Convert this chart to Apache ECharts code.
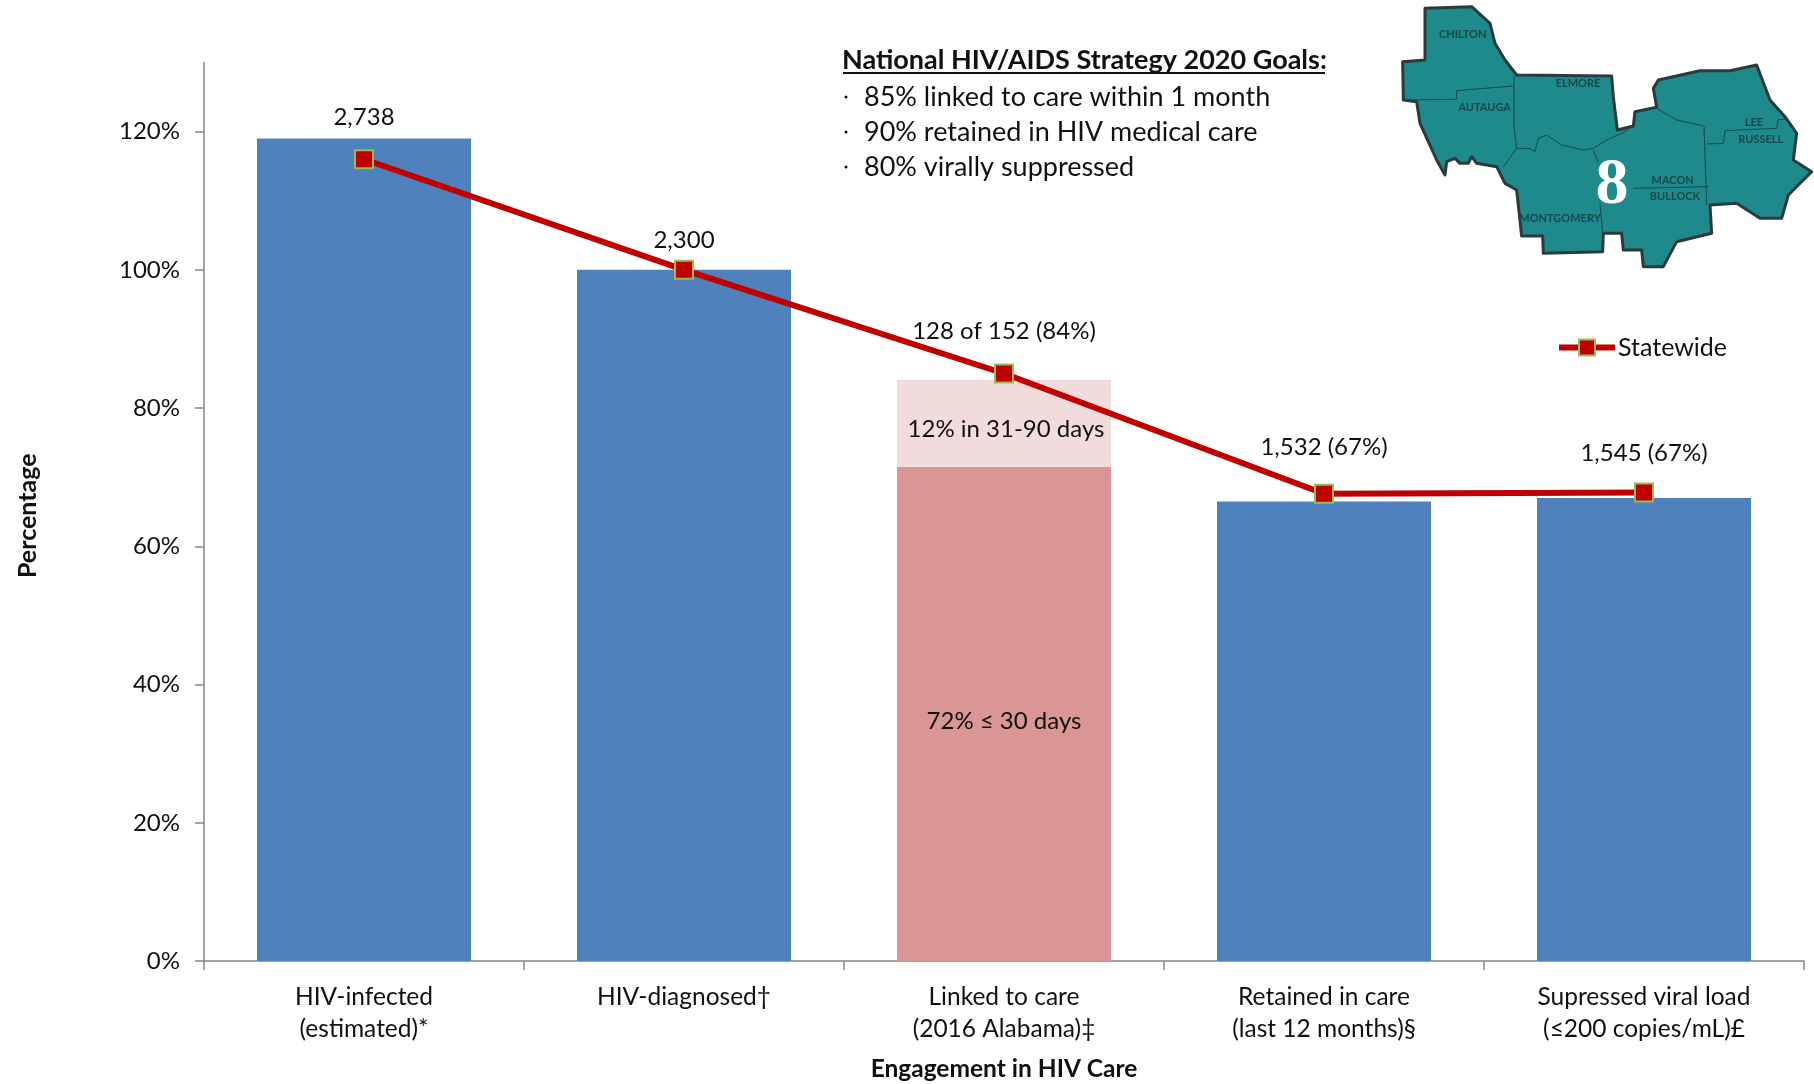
<!DOCTYPE html>
<html>
<head>
<meta charset="utf-8">
<title>HIV care continuum</title>
<script src="https://cdn.jsdelivr.net/npm/echarts@6/dist/echarts.min.js"></script>
<style>
  html, body { margin: 0; padding: 0; background: #fff; }
  #chart { width: 1814px; height: 1084px; }
</style>
</head>
<body>
<div id="chart"></div>
<script>
const categories = [
  'HIV-infected\n(estimated)*',
  'HIV-diagnosed\u2020',
  'Linked to care\n(2016 Alabama)\u2021',
  'Retained in care\n(last 12 months)\u00a7',
  'Supressed viral load\n(\u2264200 copies/mL)\u00a3'
]
const regionValues = [119, 100, 71.5, 66.5, 67]
const linked31to90Values = [null, null, 12.6, null, null]
const statewideValues = [116, 100, 85, 67.6, 67.8]
const countLabels = ['2,738', '2,300', '128 of 152 (84%)', '1,532 (67%)', '1,545 (67%)']
const yTicks = [0, 20, 40, 60, 80, 100, 120]
const goalsTitle = 'National HIV/AIDS Strategy 2020 Goals:'
const goals = ['85% linked to care within 1 month', '90% retained in HIV medical care', '80% virally suppressed']

const FONT = 'Lato'
const TEXT = '#111'
const AXIS = '#868686'

// how far each count label sits above its marker
const labelRise = [30, 18, 30, 35, 27]

// map outline, traced in a 3x space and scaled down at draw time
const mapOutline = [[135,25],[275,20],[330,70],[345,130],[375,180],[410,225],[695,228],[700,290],[712,390],[760,378],[765,335],[830,322],[820,265],[835,240],[960,212],[1050,212],[1130,195],[1170,300],[1215,350],[1250,400],[1240,480],[1295,515],[1225,585],[1205,655],[1140,655],[1070,610],[990,615],[995,700],[890,725],[850,800],[790,800],[785,750],[730,750],[725,700],[670,700],[668,755],[490,760],[488,708],[425,708],[410,570],[375,550],[350,500],[290,490],[275,470],[265,490],[240,490],[225,475],[200,485],[195,525],[170,480],[120,370],[110,305],[70,300],[68,185],[135,180]]
const mapBorders = [
  [[70,300],[230,298],[230,272],[400,258]],
  [[402,228],[402,380],[410,445],[370,500]],
  [[410,445],[450,445],[465,455],[475,415],[500,405],[545,435],[610,450],[640,445],[680,420],[725,400],[760,378]],
  [[640,450],[655,490]],
  [[660,610],[668,700]],
  [[760,565],[985,560]],
  [[830,325],[890,360],[972,378],[980,615]],
  [[980,432],[1030,430],[1035,392],[1190,385],[1195,358],[1215,358]]
]
const mapLabels = [
  ['CHILTON', 248, 104], ['ELMORE', 594, 250], ['AUTAUGA', 314, 322], ['LEE', 1122, 367],
  ['RUSSELL', 1142, 418], ['MACON', 878, 542], ['BULLOCK', 885, 588], ['MONTGOMERY', 540, 654]
]

const toMap = (p) => [1380 + p[0] / 3, p[1] / 3]

function buildGraphic() {
  const items = [
    {
      type: 'text', left: 842, top: 47,
      style: { text: goalsTitle, font: 'bold 27px ' + FONT, fill: TEXT }
    },
    {
      type: 'line', shape: { x1: 843, y1: 73, x2: 1325, y2: 73 },
      style: { stroke: TEXT, lineWidth: 2 }
    }
  ]
  goals.forEach((g, i) => {
    const y = [97, 132, 167][i]
    items.push({ type: 'circle', shape: { cx: 846, cy: y, r: 1.5 }, style: { fill: TEXT } })
    items.push({
      type: 'text', x: 864, y: y,
      style: { text: g, font: '27px ' + FONT, fill: TEXT, verticalAlign: 'middle' }
    })
  })

  items.push({
    type: 'polygon', shape: { points: mapOutline.map(toMap) },
    style: { fill: '#1F8A8C', stroke: '#2B3A3A', lineWidth: 3, lineJoin: 'round' }
  })
  mapBorders.forEach((b) => {
    items.push({
      type: 'polyline', shape: { points: b.map(toMap) },
      style: { fill: null, stroke: '#17494A', lineWidth: 1 }
    })
  })
  mapLabels.forEach((m) => {
    const p = toMap([m[1], m[2]])
    items.push({
      type: 'text', x: p[0], y: p[1],
      style: {
        text: m[0], font: 'bold 11px "Liberation Sans Narrow", ' + FONT, fill: '#17494A',
        align: 'center', verticalAlign: 'middle'
      }
    })
  })
  items.push({
    type: 'text', x: 1612, y: 186,
    style: {
      text: '8', font: 'bold 66px "Liberation Serif"', fill: '#fff',
      align: 'center', verticalAlign: 'middle',
      shadowColor: '#17494A', shadowBlur: 2, shadowOffsetX: 1, shadowOffsetY: 1
    }
  })
  return items
}

const chart = echarts.init(document.getElementById('chart'), null, { renderer: 'canvas' })

chart.setOption({
  animation: false,
  textStyle: { fontFamily: FONT },
  // v6 squeezes the grid to fit the axis names otherwise
  grid: { left: 204, right: 10, top: 62.5, bottom: 123, outerBoundsMode: 'none' },
  legend: {
    data: ['Statewide'],
    left: 1551, top: 330,
    itemWidth: 56, itemHeight: 20, itemGap: 4,
    lineStyle: { width: 6 },
    textStyle: { fontFamily: FONT, fontSize: 25, color: TEXT, padding: [0, 0, 0, -2] }
  },
  xAxis: {
    type: 'category',
    data: categories,
    name: 'Engagement in HIV Care',
    nameLocation: 'middle',
    nameGap: 108,
    nameTextStyle: { fontFamily: FONT, fontSize: 24.5, fontWeight: 'bold', color: TEXT, verticalAlign: 'middle' },
    axisLine: { lineStyle: { color: AXIS, width: 1.5 } },
    axisTick: { show: true, length: 9, alignWithLabel: false, lineStyle: { color: AXIS, width: 1.5 } },
    axisLabel: { interval: 0, margin: 20, fontSize: 24.5, lineHeight: 32, color: TEXT, fontFamily: FONT }
  },
  yAxis: {
    type: 'value',
    min: 0,
    max: 130,
    interval: 20,
    name: 'Percentage',
    nameLocation: 'middle',
    nameGap: 176,
    nameRotate: 90,
    nameTextStyle: {
      fontFamily: FONT, fontSize: 25, fontWeight: 'bold', color: TEXT,
      verticalAlign: 'middle', padding: [0, 8, 0, 0]
    },
    splitLine: { show: false },
    axisLine: { show: true, onZero: false, lineStyle: { color: AXIS, width: 1.5 } },
    axisTick: { show: true, length: 9, customValues: yTicks, lineStyle: { color: AXIS, width: 1.5 } },
    axisLabel: {
      customValues: yTicks, margin: 24, fontSize: 24, color: TEXT, fontFamily: FONT,
      formatter: (v) => v + '%'
    }
  },
  series: [
    {
      name: 'Region',
      type: 'bar',
      stack: 'care',
      barWidth: 214,
      data: regionValues.map((v, i) => (i === 2
        ? {
            value: v,
            itemStyle: { color: '#D99694' },
            label: {
              show: true, position: 'inside', offset: [0, 7], formatter: '72% \u2264 30 days',
              fontSize: 24, color: TEXT, fontFamily: FONT
            }
          }
        : v)),
      itemStyle: { color: '#4F81BD' }
    },
    {
      name: 'Linked 31-90 days',
      type: 'bar',
      stack: 'care',
      barWidth: 214,
      data: linked31to90Values,
      itemStyle: { color: '#F2DCDB' },
      label: {
        show: true, position: 'inside', offset: [2, 6], formatter: '12% in 31-90 days',
        fontSize: 24, color: TEXT, fontFamily: FONT
      }
    },
    {
      name: 'Statewide',
      type: 'line',
      z: 5,
      data: statewideValues.map((v, i) => ({
        value: v,
        label: {
          show: true, position: 'top', distance: 0, offset: [0, 10 - labelRise[i]],
          formatter: countLabels[i], fontSize: 24, color: TEXT, fontFamily: FONT
        }
      })),
      symbol: 'rect',
      symbolSize: 18,
      lineStyle: { color: '#C00000', width: 6 },
      itemStyle: { color: '#C00000', borderColor: '#9BBB59', borderWidth: 2 }
    }
  ],
  graphic: buildGraphic()
})
</script>
</body>
</html>
